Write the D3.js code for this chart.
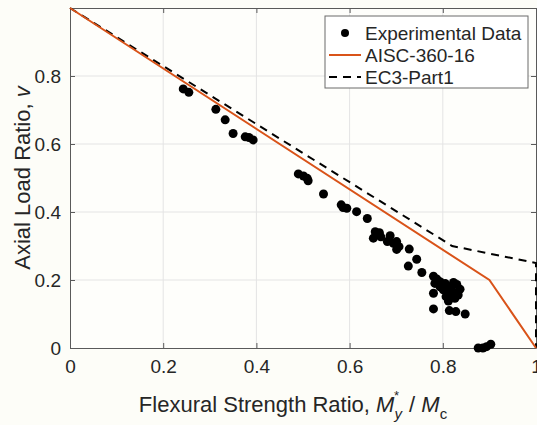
<!DOCTYPE html>
<html><head><meta charset="utf-8">
<script src="https://cdn.jsdelivr.net/npm/d3@7"></script>
<style>body{margin:0;background:#fdfdf8;} text{font-family:"Liberation Sans",Arial,sans-serif;fill:#262626;}</style>
</head><body>
<svg id="c" width="537" height="425"></svg>
<script>
const expX = [0.243,0.255,0.313,0.333,0.350,0.376,0.384,0.393,0.490,0.501,0.509,0.511,0.544,0.582,0.586,0.594,0.615,0.638,0.655,0.664,0.651,0.667,0.687,0.681,0.694,0.701,0.706,0.701,0.728,0.744,0.726,0.755,0.780,0.787,0.794,0.783,0.794,0.805,0.812,0.823,0.830,0.819,0.837,0.801,0.780,0.812,0.823,0.833,0.807,0.826,0.812,0.780,0.814,0.828,0.848,0.876,0.886,0.894,0.903];
const expY = [0.762,0.752,0.702,0.671,0.631,0.621,0.619,0.612,0.512,0.506,0.499,0.492,0.453,0.421,0.413,0.411,0.401,0.381,0.342,0.339,0.323,0.327,0.330,0.313,0.308,0.313,0.298,0.290,0.291,0.261,0.241,0.222,0.211,0.203,0.195,0.190,0.180,0.190,0.180,0.193,0.187,0.171,0.173,0.171,0.161,0.161,0.156,0.156,0.151,0.146,0.138,0.115,0.110,0.107,0.100,0.000,0.000,0.004,0.011];
const aiscX = [0, 0.9, 1];
const aiscY = [1, 0.2, 0];
const ec3X = [0, 0.82, 1, 1];
const ec3Y = [1, 0.30, 0.25, 0];
const xTicks = [0, 0.2, 0.4, 0.6, 0.8, 1];
const yTicks = [0, 0.2, 0.4, 0.6, 0.8];
const xTickLabels = ["0","0.2","0.4","0.6","0.8","1"];
const yTickLabels = ["0","0.2","0.4","0.6","0.8"];
const legendLabels = ["Experimental Data","AISC-360-16","EC3-Part1"];

const svg = d3.select("#c");
const L=70, R=536, T=8, B=348;
const x = d3.scaleLinear().domain([0,1]).range([L,R]);
const y = d3.scaleLinear().domain([0,1]).range([B,T]);
const red = "#d95319", axisC = "#5a5a5a", gridC = "#e4e4e4";

svg.append("rect").attr("x",L).attr("y",T).attr("width",R-L).attr("height",B-T).attr("fill","#fefefb");
// grid
const g = svg.append("g");
g.selectAll(".gx").data(xTicks.slice(1,-1)).join("line").attr("x1",d=>x(d)).attr("x2",d=>x(d)).attr("y1",T).attr("y2",B).attr("stroke",gridC);
g.selectAll(".gy").data(yTicks.slice(1)).join("line").attr("y1",d=>y(d)).attr("y2",d=>y(d)).attr("x1",L).attr("x2",R).attr("stroke",gridC);

// axes
const xa = svg.append("g").attr("transform",`translate(0,${B})`).call(d3.axisBottom(x).tickValues(xTicks).tickFormat((d,i)=>xTickLabels[i]).tickSizeInner(-5).tickSizeOuter(0).tickPadding(12));
const xt = svg.append("g").attr("transform",`translate(0,${T})`).call(d3.axisTop(x).tickValues(xTicks).tickFormat("").tickSizeInner(-5).tickSizeOuter(0));
const ya = svg.append("g").attr("transform",`translate(${L},0)`).call(d3.axisLeft(y).tickValues(yTicks).tickFormat((d,i)=>yTickLabels[i]).tickSizeInner(-5).tickSizeOuter(0).tickPadding(9));
const yr = svg.append("g").attr("transform",`translate(${R},0)`).call(d3.axisRight(y).tickValues(yTicks).tickFormat("").tickSizeInner(-5).tickSizeOuter(0));
[xa,xt,ya,yr].forEach(a=>{a.selectAll("path").attr("stroke",axisC);a.selectAll("line").attr("stroke",axisC);a.selectAll("text").style("font-size","19px").attr("fill","#262626");});

// lines
const line = d3.line().x(d=>x(d[0])).y(d=>y(d[1]));
svg.append("path").datum(ec3X.map((v,i)=>[v,ec3Y[i]])).attr("d",line).attr("fill","none").attr("stroke","#000").attr("stroke-width",2).attr("stroke-dasharray","8,6");
svg.append("path").datum(aiscX.map((v,i)=>[v,aiscY[i]])).attr("d",line).attr("fill","none").attr("stroke",red).attr("stroke-width",2);

// points
svg.append("g").selectAll("circle").data(expX.map((v,i)=>[v,expY[i]])).join("circle")
  .attr("cx",d=>x(d[0])).attr("cy",d=>y(d[1])).attr("r",4.5).attr("fill","#000");

// labels
svg.append("text").attr("x",(L+R)/2-10).attr("y",412).attr("text-anchor","middle").style("font-size","22px")
  .html('Flexural Strength Ratio, <tspan font-style="italic">M</tspan><tspan font-style="italic" font-size="15px" dy="7">y</tspan><tspan font-size="13px" dx="-8" dy="-19">*</tspan><tspan dy="12" dx="4"> / </tspan><tspan font-style="italic">M</tspan><tspan font-size="15px" dy="7">c</tspan>');
svg.append("text").attr("transform",`translate(30,${(T+B)/2}) rotate(-90)`).attr("text-anchor","middle").style("font-size","22px")
  .html('Axial Load Ratio, <tspan font-style="italic">v</tspan>');

// legend
const lg = svg.append("g");
lg.append("rect").attr("x",325).attr("y",16).attr("width",203).attr("height",72).attr("fill","#fff").attr("stroke","#6a6a6a");
const rows=[33,55,77];
lg.append("circle").attr("cx",345).attr("cy",rows[0]).attr("r",4).attr("fill","#000");
lg.append("line").attr("x1",329).attr("x2",361).attr("y1",rows[1]).attr("y2",rows[1]).attr("stroke",red).attr("stroke-width",2);
lg.append("line").attr("x1",329).attr("x2",361).attr("y1",rows[2]).attr("y2",rows[2]).attr("stroke","#000").attr("stroke-width",2).attr("stroke-dasharray","8,6");
legendLabels.forEach((t,i)=>lg.append("text").attr("x",365).attr("y",rows[i]).attr("dy","0.35em").style("font-size","19px").text(t));
</script>
</body></html>
